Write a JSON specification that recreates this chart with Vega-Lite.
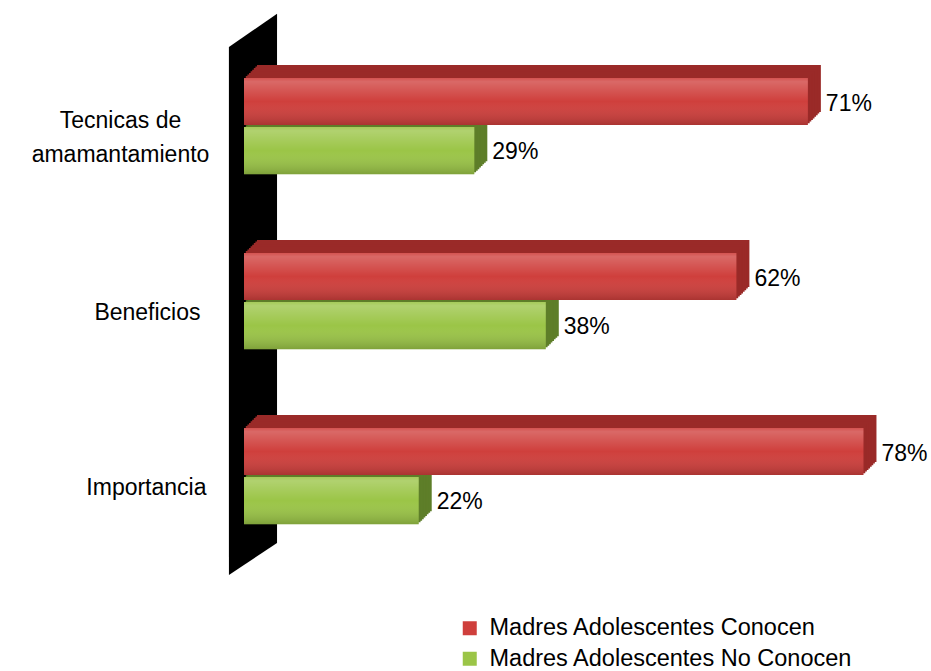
{
  "$schema": "https://vega.github.io/schema/vega-lite/v6.json",
  "width": 683,
  "height": 525,
  "autosize": {"type": "none"},
  "padding": {"left": 244, "top": 38.5, "right": 4, "bottom": 107.5},
  "background": "white",
  "config": {"view": {"stroke": null}, "font": "Liberation Sans"},
  "datasets": {
    "bars": [
      {"categoria": "Tecnicas de amamantamiento", "serie": "Madres Adolescentes Conocen", "valor": 71},
      {"categoria": "Tecnicas de amamantamiento", "serie": "Madres Adolescentes No Conocen", "valor": 29},
      {"categoria": "Beneficios", "serie": "Madres Adolescentes Conocen", "valor": 62},
      {"categoria": "Beneficios", "serie": "Madres Adolescentes No Conocen", "valor": 38},
      {"categoria": "Importancia", "serie": "Madres Adolescentes Conocen", "valor": 78},
      {"categoria": "Importancia", "serie": "Madres Adolescentes No Conocen", "valor": 22}
    ],
    "wall": [
      {"wx": -1.9, "top": 98.4, "bottom": -2.2},
      {"wx": 4.16, "top": 104.7, "bottom": 3.9}
    ]
  },
  "layer": [
    {
      "data": {"name": "wall"},
      "mark": {"type": "area", "color": "black", "orient": "vertical"},
      "encoding": {
        "x": {"field": "wx", "type": "quantitative", "scale": {"domain": [0, 86]}, "axis": null},
        "y": {"field": "top", "type": "quantitative", "scale": {"domain": [0, 100]}, "axis": null},
        "y2": {"field": "bottom"}
      }
    },
    {
      "data": {"name": "bars"},
      "transform": [{"calculate": "datum.valor + '%'", "as": "etiqueta"}],
      "encoding": {
        "y": {
          "field": "categoria", "type": "nominal",
          "sort": ["Tecnicas de amamantamiento", "Beneficios", "Importancia"],
          "scale": {"paddingInner": 0.45, "paddingOuter": 0.225},
          "axis": {
            "title": null, "domain": false, "ticks": false, "labelFontSize": 23,
            "labelColor": "black", "labelLineHeight": 34,
            "labelAlign": {"condition": {"test": "datum.value == 'Tecnicas de amamantamiento'", "value": "center"}, "value": "right"},
            "labelPadding": {"condition": [
              {"test": "datum.value == 'Tecnicas de amamantamiento'", "value": 124},
              {"test": "datum.value == 'Beneficios'", "value": 44}
            ], "value": 38},
            "labelOffset": {"condition": {"test": "datum.value == 'Tecnicas de amamantamiento'", "value": -5}, "value": 12},
            "labelExpr": "datum.value == 'Tecnicas de amamantamiento' ? ['Tecnicas de', 'amamantamiento'] : datum.value"
          }
        },
        "yOffset": {
          "field": "serie", "type": "nominal",
          "sort": ["Madres Adolescentes Conocen", "Madres Adolescentes No Conocen"],
          "scale": {"paddingInner": 0.04}
        },
        "x": {"field": "valor", "type": "quantitative", "scale": {"domain": [0, 86]}, "axis": null}
      },
      "layer": [
        {"mark": {"type": "bar", "xOffset": 13}, "encoding": {"yOffset": {"field": "serie", "type": "nominal", "sort": ["Madres Adolescentes Conocen", "Madres Adolescentes No Conocen"], "scale": {"paddingInner": 0.04, "range": [-13, 83.25]}}, "fill": {"condition": {"test": "datum.serie === 'Madres Adolescentes Conocen'", "value": "#9a2a28"}, "value": "#5e7e29"}}},
        {"mark": {"type": "bar", "xOffset": 11.4}, "encoding": {"yOffset": {"field": "serie", "type": "nominal", "sort": ["Madres Adolescentes Conocen", "Madres Adolescentes No Conocen"], "scale": {"paddingInner": 0.04, "range": [-11.4, 84.85]}}, "fill": {"condition": {"test": "datum.serie === 'Madres Adolescentes Conocen'", "value": "#9a2a28"}, "value": "#5e7e29"}}},
        {"mark": {"type": "bar", "xOffset": 9.8}, "encoding": {"yOffset": {"field": "serie", "type": "nominal", "sort": ["Madres Adolescentes Conocen", "Madres Adolescentes No Conocen"], "scale": {"paddingInner": 0.04, "range": [-9.8, 86.45]}}, "fill": {"condition": {"test": "datum.serie === 'Madres Adolescentes Conocen'", "value": "#9a2a28"}, "value": "#5e7e29"}}},
        {"mark": {"type": "bar", "xOffset": 8.2}, "encoding": {"yOffset": {"field": "serie", "type": "nominal", "sort": ["Madres Adolescentes Conocen", "Madres Adolescentes No Conocen"], "scale": {"paddingInner": 0.04, "range": [-8.2, 88.05]}}, "fill": {"condition": {"test": "datum.serie === 'Madres Adolescentes Conocen'", "value": "#9a2a28"}, "value": "#5e7e29"}}},
        {"mark": {"type": "bar", "xOffset": 6.6}, "encoding": {"yOffset": {"field": "serie", "type": "nominal", "sort": ["Madres Adolescentes Conocen", "Madres Adolescentes No Conocen"], "scale": {"paddingInner": 0.04, "range": [-6.6, 89.65]}}, "fill": {"condition": {"test": "datum.serie === 'Madres Adolescentes Conocen'", "value": "#9a2a28"}, "value": "#5e7e29"}}},
        {"mark": {"type": "bar", "xOffset": 5}, "encoding": {"yOffset": {"field": "serie", "type": "nominal", "sort": ["Madres Adolescentes Conocen", "Madres Adolescentes No Conocen"], "scale": {"paddingInner": 0.04, "range": [-5, 91.25]}}, "fill": {"condition": {"test": "datum.serie === 'Madres Adolescentes Conocen'", "value": "#9a2a28"}, "value": "#5e7e29"}}},
        {"mark": {"type": "bar", "xOffset": 3.4}, "encoding": {"yOffset": {"field": "serie", "type": "nominal", "sort": ["Madres Adolescentes Conocen", "Madres Adolescentes No Conocen"], "scale": {"paddingInner": 0.04, "range": [-3.4, 92.85]}}, "fill": {"condition": {"test": "datum.serie === 'Madres Adolescentes Conocen'", "value": "#9a2a28"}, "value": "#5e7e29"}}},
        {"mark": {"type": "bar", "xOffset": 1.8}, "encoding": {"yOffset": {"field": "serie", "type": "nominal", "sort": ["Madres Adolescentes Conocen", "Madres Adolescentes No Conocen"], "scale": {"paddingInner": 0.04, "range": [-1.8, 94.45]}}, "fill": {"condition": {"test": "datum.serie === 'Madres Adolescentes Conocen'", "value": "#9a2a28"}, "value": "#5e7e29"}}},
        {
          "mark": {"type": "bar"},
          "encoding": {
            "color": {
              "field": "serie", "type": "nominal",
              "scale": {"domain": ["Madres Adolescentes Conocen", "Madres Adolescentes No Conocen"], "range": ["#cf3f3c", "#9bc547"]},
              "legend": {
                "title": null, "orient": "none", "legendX": 214, "legendY": 578, "direction": "vertical",
                "symbolType": "square", "symbolSize": 196, "labelFontSize": 23.5, "labelColor": "black",
                "rowPadding": 5.5, "labelOffset": 8, "symbolStrokeWidth": 0, "padding": 0, "labelLimit": 600
              }
            }
          }
        },
        {
          "mark": {
            "type": "bar",
            "fill": {
              "gradient": "linear", "x1": 0, "y1": 0, "x2": 0, "y2": 1,
              "stops": [
                {"offset": 0, "color": "rgba(255,255,255,0.1)"},
                {"offset": 0.08, "color": "rgba(255,255,255,0.22)"},
                {"offset": 0.5, "color": "rgba(255,255,255,0)"},
                {"offset": 1, "color": "rgba(0,0,0,0.18)"}
              ]
            }
          },
          "encoding": {}
        },
        {
          "mark": {"type": "text", "align": "left", "baseline": "middle", "dx": 18, "dy": 2, "fontSize": 23, "color": "black"},
          "encoding": {"text": {"field": "etiqueta"}}
        }
      ],
      "resolve": {"scale": {"yOffset": "independent"}}
    }
  ],
  "resolve": {"scale": {"y": "independent"}}
}
